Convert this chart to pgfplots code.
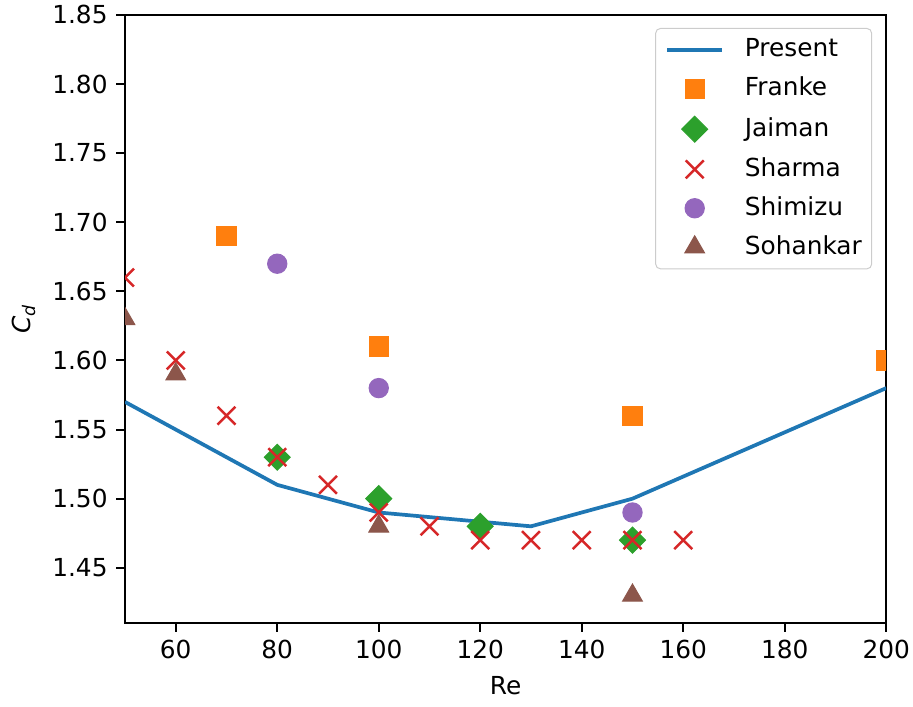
\documentclass[border=0pt]{standalone}
\usepackage{pgfplots}
\pgfplotsset{compat=1.18}
\usepackage{fontspec}
\setmainfont{DejaVu Sans}
\definecolor{c0}{HTML}{1F77B4}
\definecolor{c1}{HTML}{FF7F0E}
\definecolor{c2}{HTML}{2CA02C}
\definecolor{c3}{HTML}{D62728}
\definecolor{c4}{HTML}{9467BD}
\definecolor{c5}{HTML}{8C564B}
\definecolor{lgframe}{RGB}{204,204,204}
\pgfplotsset{
  ln/.style={legend image code/.code={\draw[##1] (0pt,0pt) -- (22pt,0pt);}},
  mk/.style={only marks, legend image code/.code={\draw[mark repeat=2,mark phase=2,##1] plot coordinates {(0pt,0pt)(11pt,0pt)(22pt,0pt)};}},
}
\begin{document}
\begin{tikzpicture}
\begin{axis}[name=ax,
  scale only axis, width=306.9pt, height=245.2pt,
  xmin=50, xmax=200, ymin=1.41, ymax=1.85,
  xtick={60,80,100,120,140,160,180,200},
  ytick={1.45,1.50,1.55,1.60,1.65,1.70,1.75,1.80,1.85},
  yticklabel style={/pgf/number format/.cd, fixed, fixed zerofill, precision=2},
  /pgf/number format/assume math mode=true,
  tick align=outside, tick pos=left, major tick length=3.5pt,
  every tick/.style={black, line width=0.8pt},
  axis line style={line width=0.8pt},
  ticklabel style={font=\fontsize{10}{12}\selectfont},
  label style={font=\fontsize{10}{12}\selectfont},
  xlabel={Re}, ylabel={\textit{C}\textsubscript{\textit{d}}},
  clip marker paths=true,
  legend cell align=left,
  legend style={at={(0.9816,0.9786)}, anchor=north east, draw=lgframe,
    rounded corners=2pt, font=\fontsize{10}{12}\selectfont,
    inner xsep=4pt, inner ysep=4pt,
    nodes={inner xsep=0pt, inner ysep=0pt, text height=7.5pt, text depth=2pt},
    row sep=6.2pt,
    /tikz/every odd column/.append style={column sep=8.5pt}},
]
\addplot[ln, c0, line width=1.5pt] coordinates {(50,1.57)(80,1.51)(100,1.49)(130,1.48)(150,1.50)(200,1.58)};
\addlegendentry{Present}
\addplot[mk, mark=square*, mark size=3.9pt, color=c1] coordinates {(70,1.69)(100,1.61)(150,1.56)(200,1.60)};
\addlegendentry{Franke}
\addplot[mk, mark=square*, mark size=3.7pt, mark options={rotate=45}, color=c2] coordinates {(80,1.53)(100,1.50)(120,1.48)(150,1.47)};
\addlegendentry{Jaiman}
\addplot[mk, mark=x, mark size=5.1pt, mark options={line width=1pt}, color=c3] coordinates {(50,1.66)(60,1.60)(70,1.56)(80,1.53)(90,1.51)(100,1.49)(110,1.48)(120,1.47)(130,1.47)(140,1.47)(150,1.47)(160,1.47)};
\addlegendentry{Sharma}
\addplot[mk, mark=*, mark size=3.9pt, color=c4] coordinates {(80,1.67)(100,1.58)(150,1.49)};
\addlegendentry{Shimizu}
\addplot[mk, mark=triangle*, mark size=4.6pt, color=c5] coordinates {(50,1.63)(60,1.59)(100,1.48)(150,1.43)};
\addlegendentry{Sohankar}
\end{axis}
\pgfresetboundingbox
\path (ax.south west) ++(-50.4pt,-33.5pt) rectangle ++(368.1pt,284.7pt);
\end{tikzpicture}
\end{document}
